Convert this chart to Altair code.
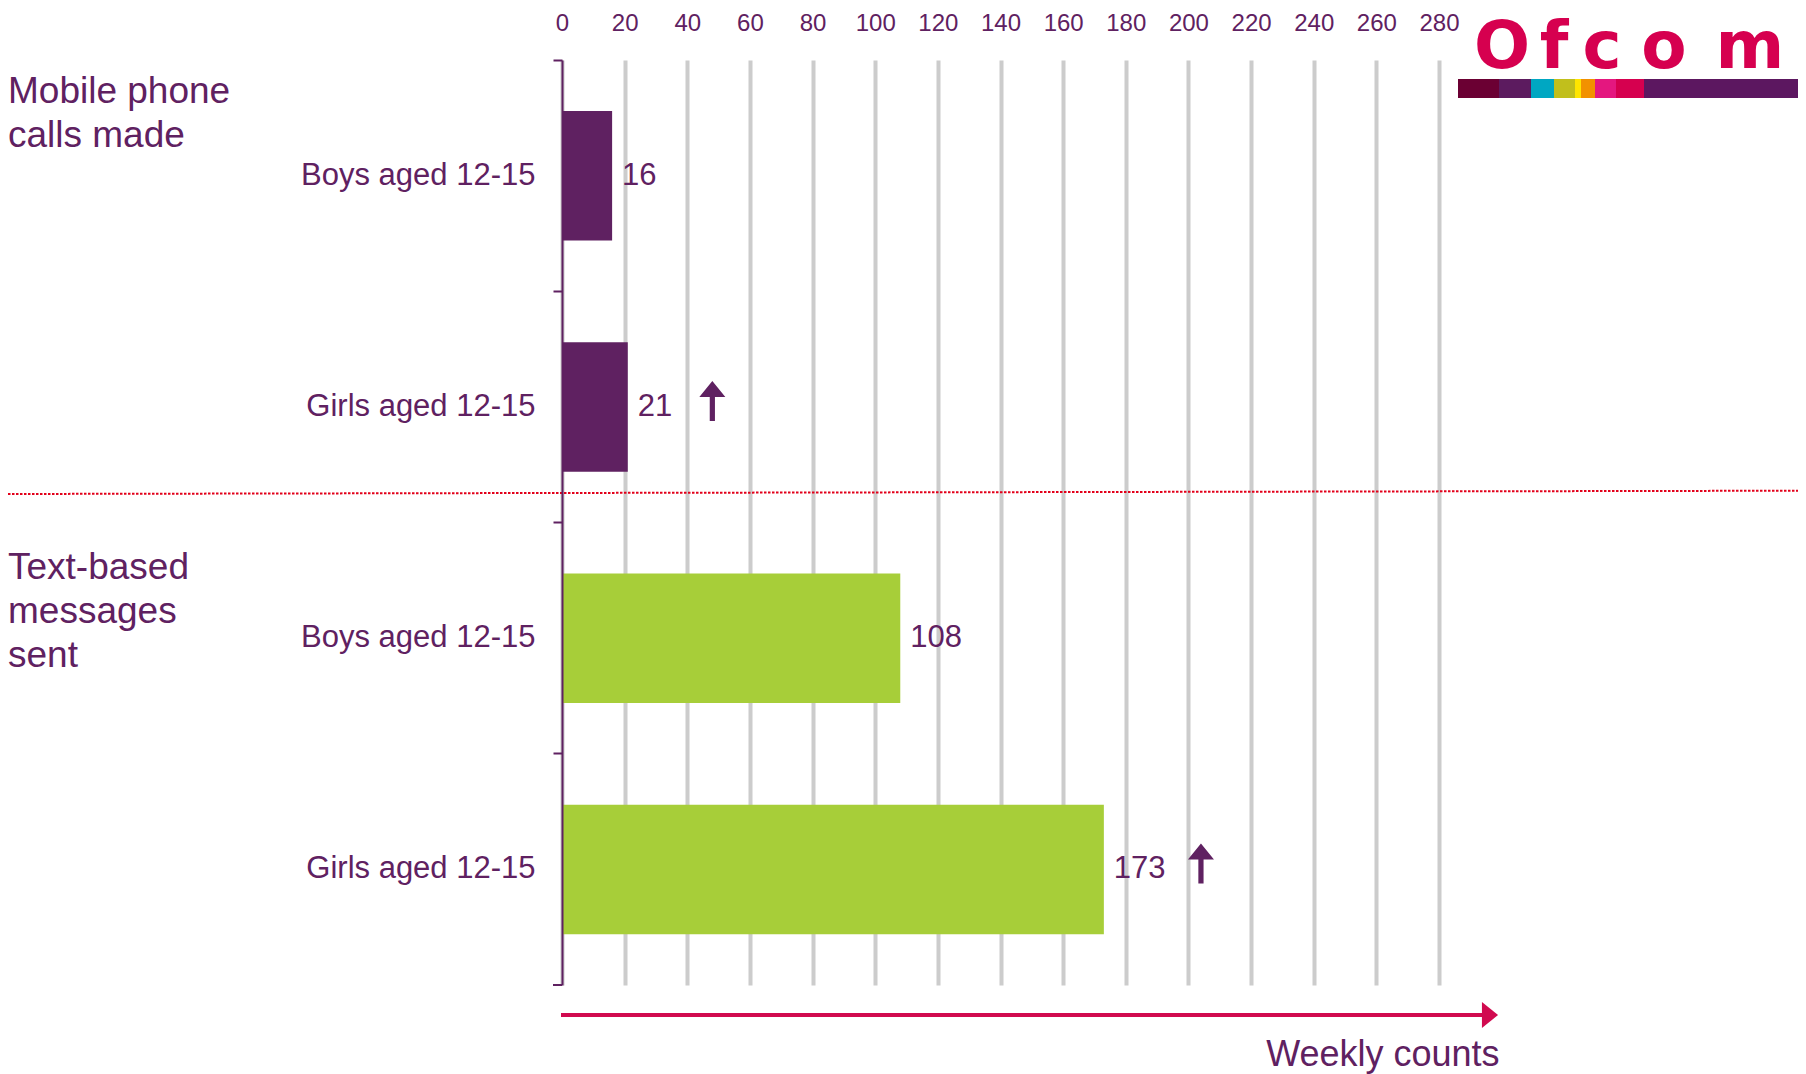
import altair as alt
import pandas as pd

FONT = "Liberation Sans"
PURPLE = "#5f2161"
GREEN = "#a7ce39"
RED = "#d10a4f"
DOT_RED = "#e2001a"
GRID = "#cccccc"

# ---------------- data ----------------
groups = ["calls", "calls", "texts", "texts"]
rows = ["Boys aged 12-15", "Girls aged 12-15", "Boys aged 12-15", "Girls aged 12-15"]
values = [16, 21, 108, 173]
significant = [False, True, False, True]
arrow_x = [None, 48, None, 204]
section_titles = ["Mobile phone\ncalls made", "Text-based\nmessages\nsent"]
x_ticks = [0, 20, 40, 60, 80, 100, 120, 140, 160, 180, 200, 220, 240, 260, 280]
axis_title = "Weekly counts"
logo_text = ["O", "f", "c", "o", "m"]
logo_colors = ["#6b0033", "#5c1b5f", "#00a7c2", "#c1bf1c", "#ffe500",
               "#f29100", "#e4177f", "#d6004f", "#5c1760"]

keys = [f"{g}|{r}" for g, r in zip(groups, rows)]
df = pd.DataFrame({"key": keys, "group": groups, "value": values,
                   "sig": significant, "arrow_x": arrow_x})
one = pd.DataFrame({"d": [0]})

# ---------------- layout (pixels, relative to plot origin) ----------------
W, H = 877, 925
title_pos = [(-554, 42.7), (-554, 519)]
logo_letter_x = [940, 992, 1040, 1102, 1188]
logo_edges = [896, 937, 969, 992, 1013, 1019, 1033, 1054, 1082, 1236]

ARROW_UP = "M0,-1L0.65,-0.2L0.13,-0.2L0.13,1L-0.13,1L-0.13,-0.2L-0.65,-0.2Z"
TRI_RIGHT = "M-0.62,-1L0.62,0L-0.62,1Z"

base = alt.Chart(df)

x_enc = alt.X(
    "value:Q",
    scale=alt.Scale(domain=[0, 280], nice=False, zero=True),
    axis=alt.Axis(orient="top", values=x_ticks, domain=False, ticks=False, tickSize=0,
                  labelFontSize=24, labelColor=PURPLE, labelFont=FONT, labelPadding=25,
                  labelFlush=False, labelOverlap=False, grid=True, gridColor=GRID,
                  gridWidth=4, title=None),
)
y_enc = alt.Y(
    "key:N", sort=keys,
    scale=alt.Scale(paddingInner=0, paddingOuter=0),
    axis=alt.Axis(orient="left", domainColor=PURPLE, domainWidth=2, tickColor=PURPLE,
                  tickWidth=2, tickSize=9, bandPosition=0,
                  labelFontSize=31, labelColor=PURPLE, labelFont=FONT, labelPadding=18,
                  labelLimit=0,
                  labelExpr="split(datum.value, '|')[1]", grid=False, title=None,
                  zindex=1),
)

bars = base.mark_bar(height=alt.RelativeBandSize(band=0.56)).encode(
    x=x_enc, y=y_enc,
    color=alt.Color("group:N", scale=alt.Scale(domain=["calls", "texts"],
                                               range=[PURPLE, GREEN]), legend=None),
)

labels = base.mark_text(align="left", baseline="middle", dx=10, fontSize=31,
                        color=PURPLE, font=FONT).encode(
    x="value:Q", y="key:N", text="value:Q")

arrows = base.transform_filter("datum.sig").mark_point(
    shape=ARROW_UP, size=1600, filled=True, color=PURPLE, opacity=1,
    strokeWidth=0, yOffset=-6).encode(x="arrow_x:Q", y="key:N")

layers = [bars, labels, arrows]

# bottom tick of the category axis
layers.append(alt.Chart(one).mark_rule(color=PURPLE, strokeWidth=2).encode(
    x=alt.value(-9), x2=alt.value(0), y=alt.value(H)))

# red dotted separator
layers.append(alt.Chart(one).mark_rule(color=DOT_RED, strokeWidth=2,
                                       strokeDash=[2.5, 1.5]).encode(
    x=alt.value(-562), x2=alt.value(1244), y=alt.value(434), y2=alt.value(430.7)))

# bottom arrow + label
layers.append(alt.Chart(one).mark_rule(color=RED, strokeWidth=4).encode(
    x=alt.value(-1), x2=alt.value(922), y=alt.value(955)))
layers.append(alt.Chart(one).mark_point(shape=TRI_RIGHT, size=676, filled=True,
                                        color=RED, opacity=1, strokeWidth=0).encode(
    x=alt.value(928), y=alt.value(955)))
layers.append(alt.Chart(one).mark_text(align="right", baseline="alphabetic",
                                       fontSize=36, color=PURPLE, font=FONT).encode(
    x=alt.value(937.6), y=alt.value(1006), text=alt.value(axis_title)))

# section titles
for t, (tx, ty) in zip(section_titles, title_pos):
    layers.append(alt.Chart(one).mark_text(align="left", baseline="alphabetic",
                                           fontSize=37, lineHeight=44, lineBreak="\n",
                                           color=PURPLE, font=FONT).encode(
        x=alt.value(tx), y=alt.value(ty), text=alt.value(t)))

# logo
for ch, lx in zip(logo_text, logo_letter_x):
    layers.append(alt.Chart(one).mark_text(align="center", baseline="alphabetic",
                                           fontSize=66, fontWeight="bold",
                                           font="DejaVu Sans", color="#d6004f").encode(
        x=alt.value(lx), y=alt.value(8), text=alt.value(ch)))
for i, c in enumerate(logo_colors):
    layers.append(alt.Chart(one).mark_rect(color=c).encode(
        x=alt.value(logo_edges[i]), x2=alt.value(logo_edges[i + 1]),
        y=alt.value(19), y2=alt.value(38)))

chart = alt.layer(*layers).properties(
    width=W, height=H,
    autosize=alt.AutoSizeParams(type="none"),
    padding={"left": 554, "top": 52, "right": 359, "bottom": 97},
).configure(font=FONT).configure_view(stroke=None)

chart.save("out.html", embed_options={"renderer": "svg", "actions": False})
